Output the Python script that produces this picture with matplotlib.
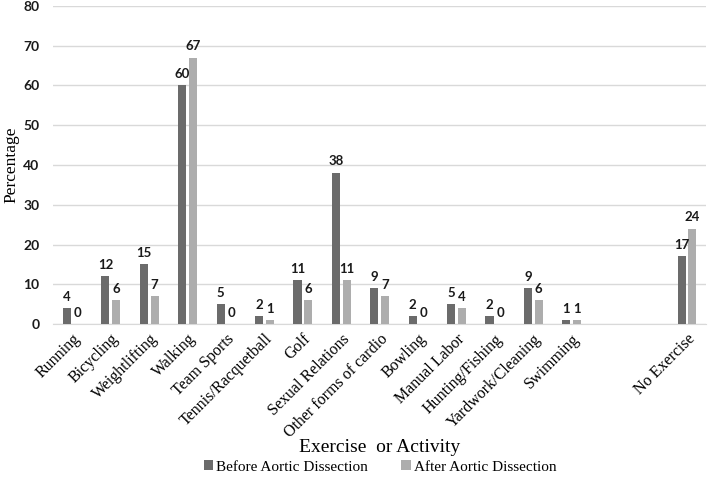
import numpy as np
import matplotlib.pyplot as plt

categories = ["Running", "Bicycling", "Weightlifting", "Walking", "Team Sports",
              "Tennis/Racquetball", "Golf", "Sexual Relations", "Other forms of cardio",
              "Bowling", "Manual Labor", "Hunting/Fishing", "Yardwork/Cleaning",
              "Swimming", "", "", "No Exercise"]
before = [4, 12, 15, 60, 5, 2, 11, 38, 9, 2, 5, 2, 9, 1, None, None, 17]
after = [0, 6, 7, 67, 0, 1, 6, 11, 7, 0, 4, 0, 6, 1, None, None, 24]

c_before = "#6b6b6b"
c_after = "#adadad"
serif = "Liberation Serif"
bold_sans = "Lato"

fig = plt.figure(figsize=(7.09, 4.83), dpi=100)
ax = fig.add_axes([0.075, 0.329, 0.921, 0.659])

x = np.arange(len(categories))
w = 0.21
off = 0.14
xb = [xi for xi, v in zip(x, before) if v is not None]
vb = [v for v in before if v is not None]
xa = [xi for xi, v in zip(x, after) if v is not None]
va = [v for v in after if v is not None]

bars_b = ax.bar(np.array(xb) - off, vb, width=w, color=c_before, label="Before Aortic Dissection", zorder=3)
bars_a = ax.bar(np.array(xa) + off, va, width=w, color=c_after, label="After Aortic Dissection", zorder=3)

for bars in (bars_b, bars_a):
    ax.bar_label(bars, padding=4, fontsize=9.5, fontweight="bold", family=bold_sans, color="#1a1a1a")

ax.set_xlim(-0.5, len(categories) - 0.5)
ax.set_ylim(0, 80)
ax.set_yticks(np.arange(0, 81, 10))
ax.yaxis.grid(True, color="#d9d9d9", linewidth=1, zorder=0)
for s in ["top", "right", "left"]:
    ax.spines[s].set_visible(False)
ax.spines["bottom"].set_color("#d9d9d9")
ax.tick_params(axis="both", length=0)
for lab in ax.get_yticklabels():
    lab.set_fontfamily(bold_sans)
    lab.set_fontweight("bold")
    lab.set_fontsize(10)
    lab.set_color("#1a1a1a")
ax.tick_params(axis="y", pad=10)

ax.set_xticks(x)
ax.set_xticklabels(categories, rotation=45, ha="right", rotation_mode="anchor",
                   family=serif, fontsize=11.5)
ax.tick_params(axis="x", pad=5)

fig.text(11 / 709, 1 - 165 / 483, "Percentage", family=serif, fontsize=12.5,
         rotation=90, ha="center", va="center")
fig.text(0.536, 1 - 448 / 483, "Exercise  or Activity", family=serif, fontsize=14,
         ha="center", va="center")

fig.legend(handles=[bars_b, bars_a], loc="center", bbox_to_anchor=(0.536, 1 - 467 / 483),
           ncol=2, frameon=False, prop={"family": serif, "size": 11},
           handlelength=0.6, handleheight=0.6, handletextpad=0.2, columnspacing=2.2)

fig.savefig("out.png", dpi=100)
